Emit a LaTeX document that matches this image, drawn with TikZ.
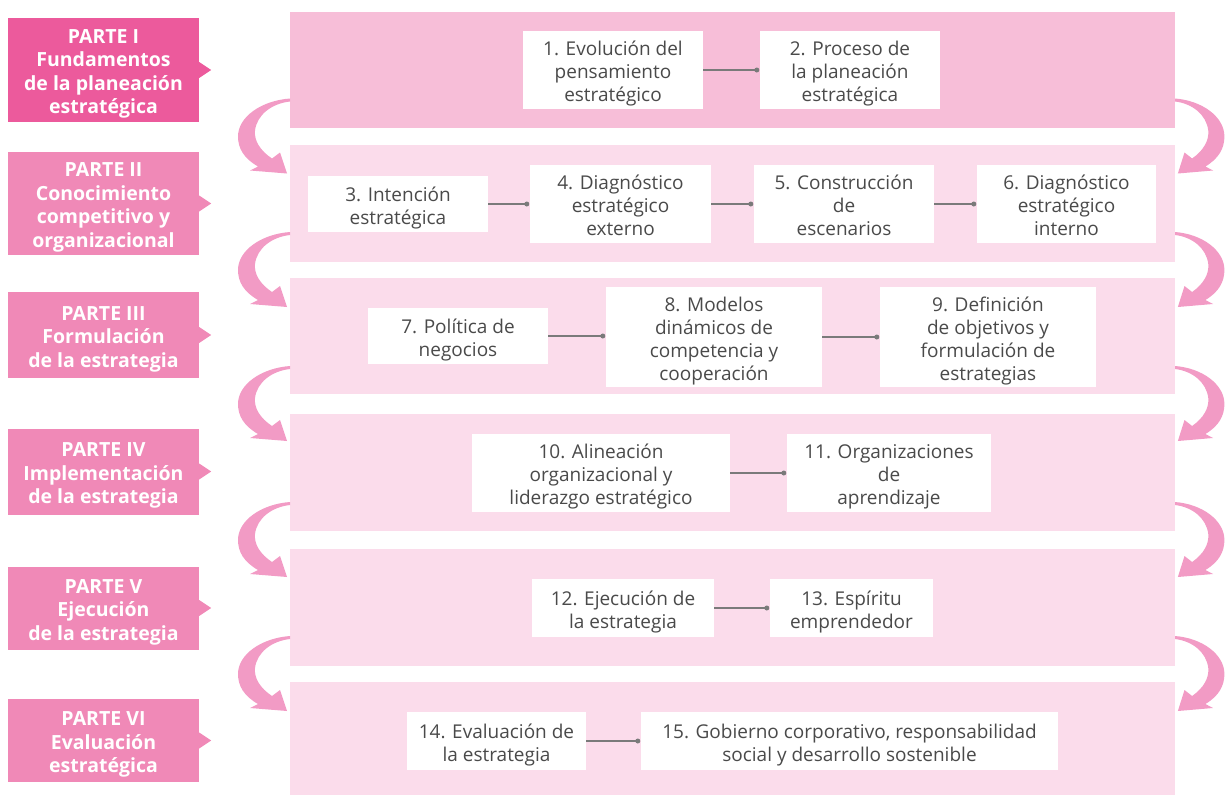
\documentclass[tikz,border=0pt]{standalone}
\usepackage{fontspec}
\setmainfont{Open Sans}
\usetikzlibrary{calc}
\definecolor{partA}{HTML}{EC5A9C}
\definecolor{partB}{HTML}{F089B7}
\definecolor{panelA}{HTML}{F7BED8}
\definecolor{panelB}{HTML}{FBDCEB}
\definecolor{flow}{HTML}{F29BC5}
\definecolor{ink}{HTML}{4A4A4A}
\definecolor{wire}{HTML}{7A7A7A}
% centred lines with even strut spacing, set a little low in their box
\newcommand\mlines[1]{\raisebox{-4pt}[\height][\depth]{\begin{tabular}{@{}c@{}}#1\end{tabular}}}
\tikzset{
  panel/.style={fill=panelB, draw=none, anchor=north west, minimum width=885, inner sep=0},
  part/.style={fill=partB, text=white, inner sep=0, minimum width=191,
    font=\fontsize{19.5}{23.5}\selectfont\bfseries},
  stepbox/.style={fill=white, text=ink, inner sep=0,
    font=\fontsize{19}{23}\selectfont},
  link/.style={draw=wire, line width=1.4},
  dot/.style={circle, fill=wire, inner sep=0, minimum size=5},
  turn/.pic={
    \fill[flow] (0,-38) .. controls (-28,-36) and (-52,-20) .. (-52,0)
      .. controls (-52,12) and (-46,22) .. (-32,30)
      -- (-40,34) -- (-3,37) -- (-10,16) -- (-18,22)
      .. controls (-30,14) and (-36,4) .. (-35,-6)
      .. controls (-33,-22) and (-18,-33) .. (0,-35) -- cycle;
  }
}
\begin{document}
\begin{tikzpicture}[x=1pt,y=-1pt]
\useasboundingbox (0,0) rectangle (1225,795);

% panels
\node[panel, fill=panelA, minimum height=116] (p1) at (290,12) {};
\node[panel, minimum height=117] (p2) at (290,145) {};
\node[panel, minimum height=116] (p3) at (290,278) {};
\node[panel, minimum height=117] (p4) at (290,414) {};
\node[panel, minimum height=117] (p5) at (290,549) {};
\node[panel, minimum height=113] (p6) at (290,682) {};

% turning arrows between panels
\foreach \y in {136.5,270,404,540,674}{
  \pic at (290,\y) {turn};
  \pic[xscale=-0.95] at (1175,\y) {turn};
}

% part labels with pointers
\node[part, fill=partA, minimum height=104] (L1) at (103.5,70) {\mlines{PARTE I\\Fundamentos\\de la planeación\\estratégica}};
\node[part, minimum height=103] (L2) at (103.5,203.5) {\mlines{PARTE II\\Conocimiento\\competitivo y\\organizacional}};
\node[part, minimum height=86] (L3) at (103.5,335) {\mlines{PARTE III\\Formulación\\de la estrategia}};
\node[part, minimum height=86] (L4) at (103.5,471.5) {\mlines{PARTE IV\\Implementación\\de la estrategia}};
\node[part, minimum height=83] (L5) at (103.5,608) {\mlines{PARTE V\\Ejecución\\de la estrategia}};
\node[part, minimum height=83] (L6) at (103.5,740.5) {\mlines{PARTE VI\\Evaluación\\estratégica}};
\fill[partA] ([yshift=8]L1.east) -- ([xshift=12]L1.east) -- ([yshift=-8]L1.east) -- cycle;
\foreach \n in {L2,L3,L4,L5,L6}{
  \fill[partB] ([yshift=8]\n.east) -- ([xshift=12]\n.east) -- ([yshift=-8]\n.east) -- cycle;
}

% chapter boxes
\node[stepbox, minimum width=180, minimum height=78] (b1) at (613,70) {\mlines{1. Evolución del\\pensamiento\\estratégico}};
\node[stepbox, minimum width=180, minimum height=78] (b2) at (850,70) {\mlines{2. Proceso de\\la planeación\\estratégica}};

\node[stepbox, minimum width=180, minimum height=56] (b3) at (398,204) {\mlines{3. Intención\\estratégica}};
\node[stepbox, minimum width=181, minimum height=78] (b4) at (620.5,204) {\mlines{4. Diagnóstico\\estratégico\\externo}};
\node[stepbox, minimum width=180, minimum height=78] (b5) at (844,204) {\mlines{5. Construcción\\de\\escenarios}};
\node[stepbox, minimum width=179, minimum height=78] (b6) at (1066.5,204) {\mlines{6. Diagnóstico\\estratégico\\interno}};

\node[stepbox, minimum width=180, minimum height=56] (b7) at (458,336) {\mlines{7. Política de\\negocios}};
\node[stepbox, minimum width=216, minimum height=100] (b8) at (714,337) {\mlines{8. Modelos\\dinámicos de\\competencia y\\cooperación}};
\node[stepbox, minimum width=216, minimum height=100] (b9) at (988,337) {\mlines{9. Definición\\de objetivos y\\formulación de\\estrategias}};

\node[stepbox, minimum width=258, minimum height=78] (b10) at (601,473) {\mlines{10. Alineación\\organizacional y\\liderazgo estratégico}};
\node[stepbox, minimum width=204, minimum height=78] (b11) at (889,473) {\mlines{11. Organizaciones\\de\\aprendizaje}};

\node[stepbox, minimum width=182, minimum height=58] (b12) at (623,608) {\mlines{12. Ejecución de\\la estrategia}};
\node[stepbox, minimum width=163, minimum height=58] (b13) at (851.5,608) {\mlines{13. Espíritu\\emprendedor}};

\node[stepbox, minimum width=179, minimum height=58] (b14) at (496.5,741) {\mlines{14. Evaluación de\\la estrategia}};
\node[stepbox, minimum width=417, minimum height=58] (b15) at (849.5,741) {\mlines{15. Gobierno corporativo, responsabilidad\\social y desarrollo sostenible}};

% links: horizontal at the level of the left box, dot just before the right box
\foreach \a/\b in {b1/b2,b3/b4,b4/b5,b5/b6,b7/b8,b8/b9,b10/b11,b12/b13,b14/b15}{
  \draw[link] (\a.east) -- ($(\a.east -| \b.west)+(-3,0)$) node[dot]{};
}
\end{tikzpicture}
\end{document}
